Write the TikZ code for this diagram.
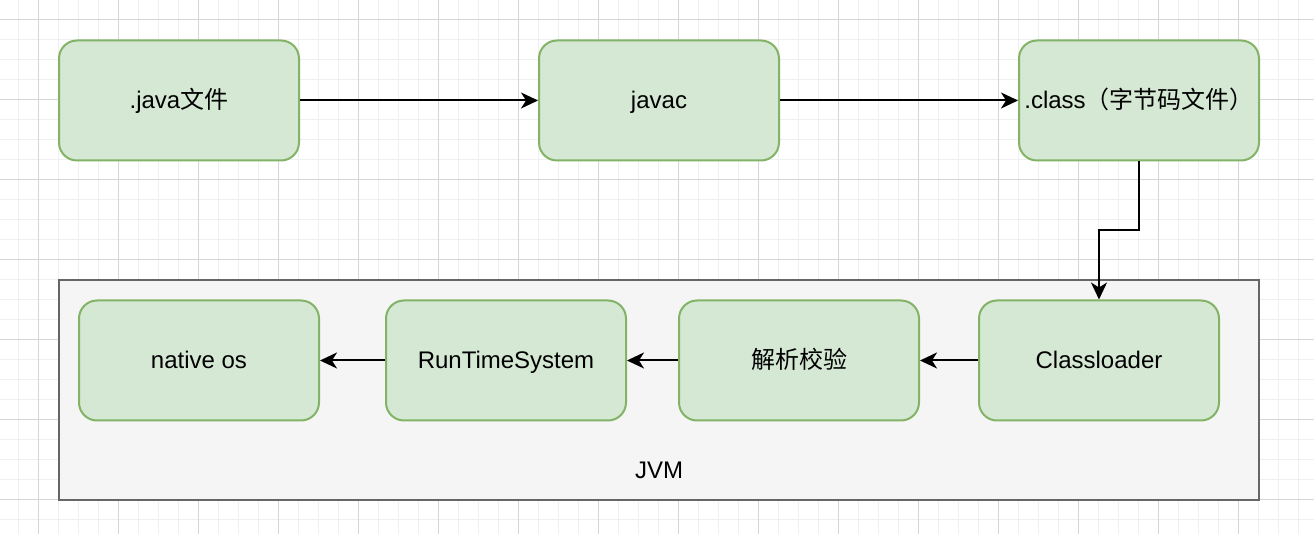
\documentclass[tikz,border=0pt]{standalone}
\usepackage{fontspec}
\setmainfont{Liberation Sans}
\newfontfamily\cjk{Noto Sans CJK SC}
\usetikzlibrary{arrows.meta}
\definecolor{gminor}{HTML}{F0F0F0}
\definecolor{gmajor}{HTML}{D6D6D6}
\definecolor{boxfill}{HTML}{D5E8D4}
\definecolor{boxline}{HTML}{82B366}
\definecolor{jvmfill}{HTML}{F5F5F5}
\definecolor{jvmline}{HTML}{666666}
\tikzset{
  stepbox/.style={draw=boxline, fill=boxfill, line width=1pt, rounded corners=9pt,
    minimum width=120pt, minimum height=60pt, inner sep=0pt, font=\fontsize{12}{14}\selectfont,
    text height=10.7pt, text depth=2.3pt},
  jvmbox/.style={draw=jvmline, fill=jvmfill, line width=1pt,
    minimum width=600pt, minimum height=110pt, inner sep=0pt},
  conn/.style={line width=1pt, -{Stealth[length=8.5pt, width=8pt, inset=2.5pt]}},
  lbl/.style={font=\fontsize{12}{14}\selectfont, inner sep=0pt, text height=10.7pt, text depth=2.3pt}
}
\begin{document}
\begin{tikzpicture}[x=0.5pt, y=-0.5pt]
\useasboundingbox (0,0) rectangle (1314,534);
\fill[white] (0,0) rectangle (1314,534);
% grid
\foreach \gx in {18,58,...,1314} \draw[gminor, line width=0.5pt] (\gx,0) -- (\gx,534);
\foreach \gx in {-2,78,...,1314} \draw[gminor, line width=0.5pt] (\gx,0) -- (\gx,534);
\foreach \gy in {0,40,...,534} \draw[gminor, line width=0.5pt] (0,\gy) -- (1314,\gy);
\foreach \gy in {60,140,...,534} \draw[gminor, line width=0.5pt] (0,\gy) -- (1314,\gy);
\foreach \gx in {38,118,...,1314} \draw[gmajor, line width=0.5pt] (\gx,0) -- (\gx,534);
\foreach \gy in {20,100,...,534} \draw[gmajor, line width=0.5pt] (0,\gy) -- (1314,\gy);
% JVM container
\node[jvmbox] (jvm) at (659,390.5) {};
\node[lbl] (jvmlbl) at (659,470) {JVM};
% top row
\node[stepbox] (java) at (179,100.5) {.java{\cjk 文件}};
\node[stepbox] (javac) at (659,100.5) {javac};
\node[stepbox] (cls) at (1139,100.5) {.class{\cjk （字节码文件）}};
% bottom row
\node[stepbox] (nat) at (199,360.5) {native os};
\node[stepbox] (rts) at (506,360.5) {RunTimeSystem};
\node[stepbox] (jx) at (799,360.5) {{\cjk 解析校验}};
\node[stepbox] (cl) at (1099,360.5) {Classloader};
% connectors
\draw[conn] (java) -- (javac);
\draw[conn] (javac) -- (cls);
\coordinate (bend) at (1120,230);
\draw[conn] (cls.south) |- (bend) -| (cl.north);
\draw[conn] (cl) -- (jx);
\draw[conn] (jx) -- (rts);
\draw[conn] (rts) -- (nat);
\end{tikzpicture}
\end{document}
